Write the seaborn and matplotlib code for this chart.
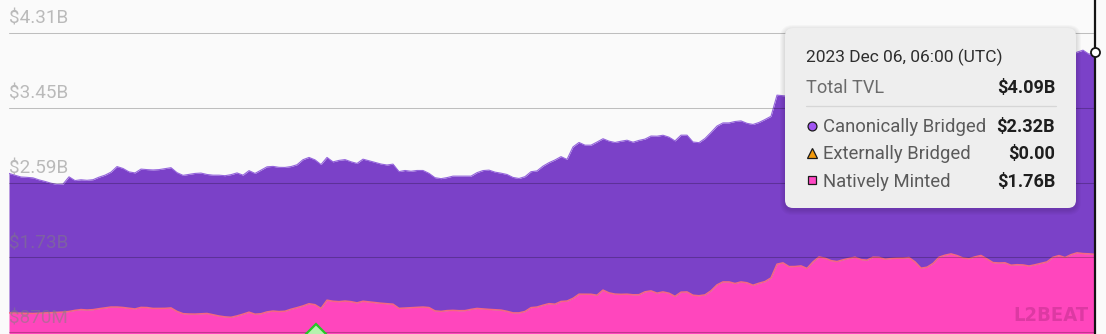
import numpy as np
import pandas as pd
import matplotlib
matplotlib.use("Agg")
import matplotlib.pyplot as plt
import matplotlib.transforms as mtransforms
import matplotlib.dates as mdates
from matplotlib.patches import FancyBboxPatch
import seaborn as sns

# ---------------- data (values in billions USD) ----------------
total_tvl = [
    2.695, 2.675, 2.654, 2.650, 2.644, 2.621, 2.603, 2.583, 2.568, 2.572,
    2.656, 2.613, 2.622, 2.616, 2.623, 2.652, 2.675, 2.710, 2.774, 2.752,
    2.713, 2.701, 2.745, 2.739, 2.735, 2.739, 2.750, 2.761, 2.704, 2.673,
    2.684, 2.695, 2.699, 2.683, 2.675, 2.675, 2.669, 2.681, 2.701, 2.675,
    2.727, 2.695, 2.733, 2.771, 2.776, 2.765, 2.764, 2.774, 2.795, 2.853,
    2.879, 2.851, 2.797, 2.879, 2.828, 2.845, 2.854, 2.829, 2.810, 2.859,
    2.841, 2.822, 2.803, 2.792, 2.802, 2.716, 2.729, 2.720, 2.729, 2.729,
    2.696, 2.646, 2.635, 2.647, 2.664, 2.664, 2.664, 2.664, 2.704, 2.728,
    2.733, 2.710, 2.698, 2.683, 2.649, 2.637, 2.658, 2.715, 2.724, 2.779,
    2.819, 2.850, 2.888, 2.856, 3.000, 3.051, 3.020, 3.020, 3.056, 3.094,
    3.066, 3.051, 3.065, 3.077, 3.054, 3.075, 3.090, 3.125, 3.123, 3.134,
    3.112, 3.069, 3.135, 3.135, 3.056, 3.049, 3.097, 3.167, 3.240, 3.276,
    3.276, 3.292, 3.299, 3.271, 3.258, 3.281, 3.315, 3.352, 3.595, 3.589,
    3.580, 3.600, 3.620, 3.590, 3.640, 3.690, 3.680, 3.660, 3.650, 3.670,
    3.690, 3.700, 3.680, 3.670, 3.700, 3.710, 3.690, 3.700, 3.710, 3.720,
    3.700, 3.660, 3.600, 3.620, 3.670, 3.740, 3.770, 3.790, 3.770, 3.750,
    3.760, 3.790, 3.810, 3.780, 3.750, 3.760, 3.780, 3.770, 3.800, 3.820,
    3.830, 3.860, 3.900, 3.940, 4.000, 4.030, 4.020, 4.060, 4.089, 4.112,
    4.066, 4.090,
]
natively_minted = [
    1.092, 1.090, 1.088, 1.086, 1.085, 1.088, 1.091, 1.094, 1.098, 1.101,
    1.108, 1.121, 1.130, 1.125, 1.129, 1.140, 1.149, 1.159, 1.159, 1.154,
    1.146, 1.137, 1.155, 1.153, 1.143, 1.143, 1.144, 1.149, 1.109, 1.083,
    1.079, 1.078, 1.082, 1.085, 1.071, 1.056, 1.046, 1.041, 1.057, 1.077,
    1.100, 1.077, 1.082, 1.103, 1.113, 1.107, 1.111, 1.134, 1.152, 1.172,
    1.197, 1.186, 1.143, 1.238, 1.226, 1.221, 1.228, 1.221, 1.207, 1.226,
    1.218, 1.209, 1.203, 1.197, 1.192, 1.144, 1.148, 1.153, 1.156, 1.159,
    1.153, 1.115, 1.109, 1.118, 1.121, 1.117, 1.118, 1.132, 1.143, 1.137,
    1.132, 1.128, 1.124, 1.110, 1.092, 1.092, 1.108, 1.152, 1.159, 1.180,
    1.198, 1.192, 1.223, 1.228, 1.259, 1.307, 1.307, 1.306, 1.295, 1.354,
    1.322, 1.308, 1.305, 1.307, 1.300, 1.301, 1.334, 1.345, 1.319, 1.333,
    1.318, 1.282, 1.330, 1.333, 1.295, 1.289, 1.299, 1.346, 1.414, 1.448,
    1.448, 1.430, 1.448, 1.438, 1.410, 1.433, 1.452, 1.494, 1.652, 1.667,
    1.624, 1.625, 1.632, 1.603, 1.678, 1.735, 1.721, 1.693, 1.682, 1.702,
    1.718, 1.732, 1.705, 1.698, 1.732, 1.730, 1.709, 1.716, 1.720, 1.721,
    1.728, 1.679, 1.606, 1.617, 1.660, 1.732, 1.755, 1.770, 1.751, 1.723,
    1.714, 1.736, 1.752, 1.712, 1.670, 1.666, 1.668, 1.640, 1.646, 1.643,
    1.631, 1.645, 1.662, 1.678, 1.731, 1.751, 1.728, 1.761, 1.782, 1.774,
    1.771, 1.765,
]
dates = pd.date_range(end="2023-12-06 06:00", periods=len(total_tvl), freq="12h")
tick_values = [0.87, 1.73, 2.59, 3.45, 4.31]
tick_labels = ["$870M", "$1.73B", "$2.59B", "$3.45B", "$4.31B"]
milestone_date = pd.Timestamp("2023-10-02 08:00")

tooltip_title = "2023 Dec 06, 06:00 (UTC)"
tooltip_total_label = "Total TVL"
tooltip_total_value = "$4.09B"
tooltip_rows = ["Canonically Bridged", "Externally Bridged", "Natively Minted"]
tooltip_values = ["$2.32B", "$0.00", "$1.76B"]

df = pd.DataFrame({"date": dates, "total": total_tvl, "native": natively_minted})

# ---------------- style ----------------
PURPLE = "#7b41c8"
PINK = "#ff46bd"
BG = "#fafafa"

sns.set_theme(style="white")
plt.rcParams["font.family"] = ["Roboto", "DejaVu Sans"]

W, H = 1106, 334
fig = plt.figure(figsize=(W / 100, H / 100), dpi=100, facecolor=BG)
ax = fig.add_axes([9 / W, 0, (1095 - 9) / W, 1])
ax.set_facecolor(BG)

ax.fill_between(df["date"], 0, df["native"], color=PINK, lw=0, zorder=1)
ax.fill_between(df["date"], df["native"], df["total"], color=PURPLE, lw=0, zorder=1)
sns.lineplot(data=df, x="date", y="native", ax=ax, color="#f8667f", lw=1.1, zorder=2)
sns.lineplot(data=df, x="date", y="total", ax=ax, color="#9464dc", lw=0.8, zorder=2)

for v in tick_values:
    ax.axhline(v, color="black", alpha=0.24, lw=0.75, zorder=3)

lab_trans = mtransforms.offset_copy(
    mtransforms.blended_transform_factory(ax.transAxes, ax.transData),
    fig=fig, x=0, y=9, units="dots")
for v, lab in zip(tick_values, tick_labels):
    ax.text(0, v, lab, transform=lab_trans, ha="left", va="baseline",
            fontsize=13.6, color="#808080", alpha=0.52, zorder=4)

ax.set_xlim(dates[0], dates[-1])
ax.set_ylim(0.849, 4.689)
ax.set_axis_off()

# milestone diamond at the bottom edge
mtrans = mtransforms.blended_transform_factory(ax.transData, ax.transAxes)
ax.plot([mdates.date2num(milestone_date)], [0], marker="D", ms=10.5,
        mfc="#b6f2ae", mec="#27c627", mew=1.6, transform=mtrans,
        clip_on=False, zorder=5)

# hover cursor
ax.axvline(dates[-1], color="#141414", lw=1.6, zorder=6, clip_on=False)
ax.plot([dates[-1]], [total_tvl[-1]], marker="o", ms=6.5, mfc="white",
        mec="#141414", mew=1.3, zorder=7, clip_on=False)

# ---------------- overlay (pixel coordinates) ----------------
ov = fig.add_axes([0, 0, 1, 1])
ov.set_xlim(0, W)
ov.set_ylim(H, 0)
ov.set_axis_off()
ov.patch.set_visible(False)

# watermark
ov.text(1013, 321, "L2BEAT", fontsize=14.5, family="DejaVu Sans",
        fontstretch="condensed", fontweight="bold", color="#c2308f",
        alpha=0.55, ha="left", va="baseline")

# tooltip box with soft shadow
bx, by, bw, bh = 785, 28, 291, 180
for k in range(1, 6):
    ov.add_patch(FancyBboxPatch((bx - k, by - k + 2), bw + 2 * k, bh + 2 * k,
                                boxstyle=f"round,pad=0,rounding_size={8 + k}",
                                fc="black", alpha=0.022, lw=0, zorder=10))
ov.add_patch(FancyBboxPatch((bx, by), bw, bh,
                            boxstyle="round,pad=0,rounding_size=8",
                            fc="#eeeeee", lw=0, zorder=11))

tx, rx = 806, 1055
ov.text(tx, 61.7, tooltip_title, fontsize=12.5, color="#2e2e2e",
        ha="left", va="baseline", zorder=12)
ov.text(tx, 93.3, tooltip_total_label, fontsize=13.1, color="#6b6b6b",
        ha="left", va="baseline", zorder=12)
ov.text(rx, 93.3, tooltip_total_value, fontsize=13.1, color="#1e1e1e",
        fontweight="bold", ha="right", va="baseline", zorder=12)
ov.plot([806, 1056], [106, 106], color="#d6d6d6", lw=0.9, zorder=12)

row_base = [132.3, 159.3, 186.7]
row_cent = [126, 152.7, 180]
markers = [("o", "#a155f2", 6.4), ("^", "#f29a0d", 6.8), ("s", "#ff48c4", 6.4)]
for lab, val, yb, yc, (mk, mc, ms) in zip(tooltip_rows, tooltip_values,
                                          row_base, row_cent, markers):
    ov.plot([812], [yc], marker=mk, ms=ms, mfc=mc, mec="#1a1a1a", mew=0.9,
            zorder=12)
    ov.text(823, yb, lab, fontsize=13.3, color="#5a5a5a", ha="left",
            va="baseline", zorder=12)
    ov.text(rx, yb, val, fontsize=13.1, color="#1e1e1e", fontweight="bold",
            ha="right", va="baseline", zorder=12)

fig.savefig("out.png", dpi=100, facecolor=BG)
